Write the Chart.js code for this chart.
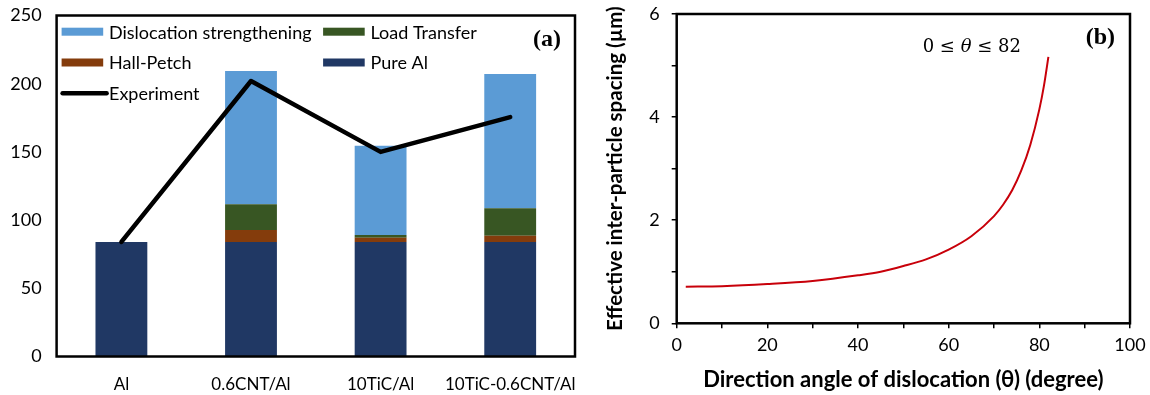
<!DOCTYPE html>
<html>
<head>
<meta charset="utf-8">
<script src="https://cdn.jsdelivr.net/npm/chart.js@4/dist/chart.umd.min.js"></script>
<style>
  html, body { margin: 0; padding: 0; background: #fff; }
  #wrap { position: relative; width: 1150px; height: 395px; overflow: hidden; }
  canvas { position: absolute; top: 0; }
  #ca { left: 0; }
  #cb { left: 600px; }
</style>
</head>
<body>
<div id="wrap">
  <canvas id="ca" width="600" height="395"></canvas>
  <canvas id="cb" width="550" height="395"></canvas>
</div>
<script>
// (a) yield strength contributions (MPa) per sample
const samples = ['Al', '0.6CNT/Al', '10TiC/Al', '10TiC-0.6CNT/Al'];
const pureAl = [84, 84, 84, 84];
const hallPetch = [0, 8.7, 3.1, 4.6];
const loadTransfer = [0, 18.9, 2.0, 20.1];
const dislocation = [0, 97.7, 65.4, 98.4];
const experiment = [84, 202, 150, 175.5];
const strengthTicks = [0, 50, 100, 150, 200, 250];

// (b) effective inter-particle spacing (µm) against dislocation direction angle (degree)
const angles = [2, 10, 20, 30, 40, 45, 50, 55, 60, 65, 70, 72, 74, 76, 78, 80, 81, 82];
const spacing = [0.71, 0.72, 0.76, 0.82, 0.93, 1.00, 1.11, 1.24, 1.43, 1.69, 2.08, 2.30, 2.58, 2.96, 3.46, 4.15, 4.60, 5.17];
const angleTicks = [0, 20, 40, 60, 80, 100];
const spacingTicks = [0, 2, 4, 6];

Chart.defaults.color = '#000';
Chart.defaults.font.family = 'Lato, "Open Sans", sans-serif';
Chart.defaults.animation = false;

// keep tick-label overhang from shrinking the plotting area
function noOverhang(s) {
  s.paddingTop = 0;
  s.paddingBottom = 0;
  s.paddingLeft = 0;
  s.paddingRight = 0;
}

// black frame around the plotting area
const frameBox = {
  id: 'frameBox',
  afterDraw(chart) {
    const { ctx, chartArea: a } = chart;
    ctx.save();
    ctx.strokeStyle = '#000';
    ctx.lineWidth = 2.5;
    ctx.strokeRect(a.left, a.top, a.right - a.left, a.bottom - a.top);
    ctx.restore();
  }
};

// panel tag such as "(a)"
function panelTag(text, dx, dy) {
  return {
    id: 'panelTag',
    afterDraw(chart) {
      const { ctx, chartArea: a } = chart;
      ctx.save();
      ctx.font = 'bold 24px "Liberation Serif", "Times New Roman", serif';
      ctx.fillStyle = '#000';
      ctx.textAlign = 'right';
      ctx.textBaseline = 'middle';
      ctx.fillText(text, a.right - dx, a.top + dy);
      ctx.restore();
    }
  };
}

// two-column legend drawn inside the plot area
const insideLegend = {
  id: 'insideLegend',
  afterDraw(chart) {
    const { ctx, chartArea: a } = chart;
    const ds = chart.data.datasets;
    // [dataset index, column, row]
    const slots = [[3, 0, 0], [2, 1, 0], [1, 0, 1], [0, 1, 1], [4, 0, 2]];
    const colX = [a.left + 5, a.left + 266.5];
    ctx.save();
    ctx.font = '18px Lato, "Open Sans", sans-serif';
    ctx.textBaseline = 'middle';
    for (const [i, col, row] of slots) {
      const d = ds[i];
      const x = colX[col];
      const y = a.top + 16.2 + row * 30.8;
      if (d.type === 'line') {
        ctx.strokeStyle = d.borderColor;
        ctx.lineWidth = 4.5;
        ctx.lineCap = 'round';
        ctx.beginPath();
        ctx.moveTo(x + 1, y);
        ctx.lineTo(x + 45, y);
        ctx.stroke();
      } else {
        ctx.fillStyle = d.backgroundColor;
        ctx.fillRect(x, y - 4, 41.6, 8);
      }
      ctx.fillStyle = '#000';
      ctx.fillText(d.label, x + 47.4, y + 1);
    }
    ctx.restore();
  }
};

// angle range note beside the curve
const rangeNote = {
  id: 'rangeNote',
  afterDraw(chart) {
    const { ctx, chartArea: a } = chart;
    ctx.save();
    ctx.fillStyle = '#000';
    ctx.textBaseline = 'middle';
    const parts = [['0 ≤ ', 'normal'], ['θ', 'italic'], [' ≤ 82', 'normal']];
    let x = a.left + 246;
    const y = a.top + 33;
    for (const [t, style] of parts) {
      ctx.font = style + ' 18px "DejaVu Serif", serif';
      ctx.fillText(t, x, y);
      x += ctx.measureText(t).width;
    }
    ctx.restore();
  }
};

new Chart(document.getElementById('ca'), {
  type: 'bar',
  data: {
    labels: samples,
    datasets: [
      { label: 'Pure Al', data: pureAl, backgroundColor: '#203864', stack: 'calc', order: 1 },
      { label: 'Hall-Petch', data: hallPetch, backgroundColor: '#843C0C', stack: 'calc', order: 1 },
      { label: 'Load Transfer', data: loadTransfer, backgroundColor: '#385623', stack: 'calc', order: 1 },
      { label: 'Dislocation strengthening', data: dislocation, backgroundColor: '#5B9BD5', stack: 'calc', order: 1 },
      { label: 'Experiment', type: 'line', data: experiment, borderColor: '#000', borderWidth: 4.5,
        pointRadius: 0, tension: 0, borderCapStyle: 'round', borderJoinStyle: 'round',
        stack: 'exp', order: 0 }
    ]
  },
  options: {
    responsive: false,
    layout: { padding: { left: 0, right: 25, top: 15.5, bottom: 0 } },
    datasets: { bar: { categoryPercentage: 1, barPercentage: 0.4 } },
    plugins: { legend: { display: false }, tooltip: { enabled: false } },
    scales: {
      x: {
        stacked: true,
        grid: { display: false, drawTicks: false },
        border: { display: false },
        ticks: { font: { size: 17 }, padding: 18, maxRotation: 0, autoSkip: false },
        afterFit(s) { s.height = 38.5; noOverhang(s); }
      },
      y: {
        stacked: true,
        min: strengthTicks[0],
        max: strengthTicks[strengthTicks.length - 1],
        grid: { display: false, drawTicks: false },
        border: { display: false },
        ticks: { stepSize: 50, font: { size: 18 }, padding: 15 },
        afterFit(s) { s.width = 56.6; noOverhang(s); }
      }
    }
  },
  plugins: [frameBox, insideLegend, panelTag('(a)', 14, 24.5)]
});

new Chart(document.getElementById('cb'), {
  type: 'line',
  data: {
    datasets: [{
      label: 'Effective inter-particle spacing',
      data: angles.map((t, i) => ({ x: t, y: spacing[i] })),
      borderColor: '#C8000A',
      borderWidth: 2,
      pointRadius: 0,
      cubicInterpolationMode: 'monotone'
    }]
  },
  options: {
    responsive: false,
    layout: { padding: { left: 0, right: 20, top: 14, bottom: 0 } },
    plugins: { legend: { display: false }, tooltip: { enabled: false } },
    scales: {
      x: {
        type: 'linear',
        min: angleTicks[0],
        max: angleTicks[angleTicks.length - 1],
        grid: { drawOnChartArea: false, drawTicks: true, tickLength: 5, color: '#000', lineWidth: 1.5 },
        border: { display: false },
        ticks: {
          stepSize: 10, autoSkip: false, maxRotation: 0, padding: 6, font: { size: 18 },
          callback: v => (angleTicks.includes(v) ? String(v) : '')
        },
        title: {
          display: true,
          text: 'Direction angle of dislocation (θ) (degree)',
          font: { size: 22, weight: 'bold' },
          padding: { top: 0, bottom: 2 }
        },
        afterFit(s) { s.height = 71.7; noOverhang(s); }
      },
      y: {
        min: spacingTicks[0],
        max: spacingTicks[spacingTicks.length - 1],
        grid: { drawOnChartArea: false, drawTicks: true, tickLength: 5, color: '#000', lineWidth: 1.5 },
        border: { display: false },
        ticks: {
          stepSize: 1, autoSkip: false, padding: 12, font: { size: 18 },
          callback: v => (spacingTicks.includes(v) ? String(v) : '')
        },
        title: {
          display: true,
          text: 'Effective inter-particle spacing (µm)',
          font: { size: 20.5, weight: 'bold' },
          padding: { top: 3, bottom: 0 }
        },
        afterFit(s) { s.width = 76.7; noOverhang(s); }
      }
    }
  },
  plugins: [frameBox, rangeNote, panelTag('(b)', 15, 24)]
});
</script>
</body>
</html>
